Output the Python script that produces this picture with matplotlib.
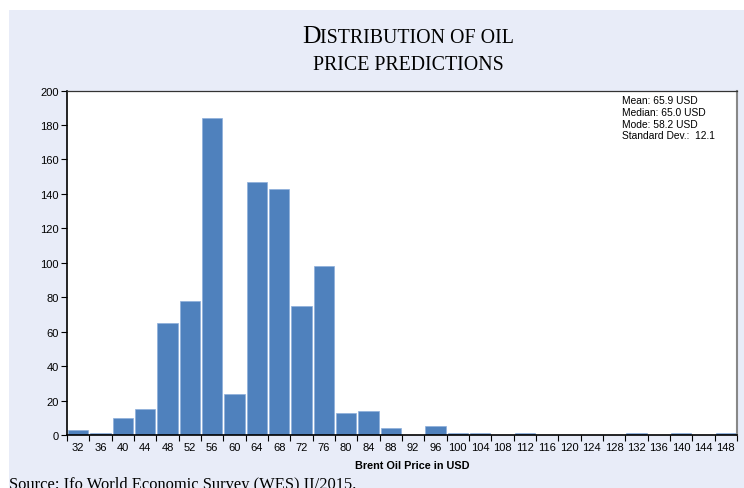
import matplotlib.pyplot as plt
from matplotlib.patches import Rectangle

# Brent oil price bins (USD) and number of responses
price_bins = [32, 36, 40, 44, 48, 52, 56, 60, 64, 68, 72, 76, 80, 84, 88,
              92, 96, 100, 104, 108, 112, 116, 120, 124, 128, 132, 136, 140, 144, 148]
counts = [3, 1, 10, 15, 65, 78, 184, 24, 147, 143, 75, 98, 13, 14, 4,
          0, 5, 1, 1, 0, 1, 0, 0, 0, 0, 1, 0, 1, 0, 1]
stats_lines = ["Mean: 65.9 USD", "Median: 65.0 USD", "Mode: 58.2 USD", "Standard Dev.:  12.1"]

W, H = 744, 489
fig = plt.figure(figsize=(W / 100, H / 100), dpi=100)
fig.patch.set_facecolor("white")
fig.patches.append(Rectangle((9 / W, 0), 1, (H - 11) / H, transform=fig.transFigure,
                             facecolor="#E8ECF8", edgecolor="none", zorder=-10))

ax = fig.add_axes([67 / W, (H - 436) / H, (737 - 67) / W, (436 - 91.5) / H], zorder=1)
ax.set_facecolor("white")

x = list(range(len(price_bins)))
ax.bar(x, counts, width=0.92, color="#4F81BD", edgecolor="#8DAEDB", linewidth=0.5, zorder=2)

ax.set_xlim(-0.5, len(price_bins) - 0.5)
ax.set_ylim(0, 200)
ax.set_yticks(range(0, 201, 20))
ax.tick_params(axis="y", labelsize=8, length=4, width=0.8, pad=2)
ax.set_xticks([i + 0.5 for i in range(-1, len(price_bins))], minor=False)
ax.set_xticklabels([])
ax.set_xticks(x, minor=True)
ax.set_xticklabels([str(p) for p in price_bins], minor=True)
ax.tick_params(axis="x", which="major", length=4, width=0.8, direction="out")
ax.tick_params(axis="x", which="minor", length=0, labelsize=8, pad=5)
for lab in ax.get_yticklabels() + ax.get_xticklabels(minor=True):
    lab.set_fontfamily("Liberation Sans")

for s in ["left", "bottom"]:
    ax.spines[s].set_color("black")
    ax.spines[s].set_linewidth(1.2)
ax.spines["top"].set_color("#333333")
ax.spines["top"].set_linewidth(0.9)
ax.spines["right"].set_color("#888888")
ax.spines["right"].set_linewidth(1.5)

ax.set_xlabel("Brent Oil Price in USD", fontsize=7.8, fontweight="bold",
              fontfamily="Liberation Sans", labelpad=0)
ax.xaxis.set_label_coords(0.515, -0.072)

ax.text(555 / 670, 1 - (96 - 91.5) / 344.5, "\n".join(stats_lines), transform=ax.transAxes,
        fontsize=7.4, fontfamily="Liberation Sans", va="top", ha="left", linespacing=1.22)

# title in small caps: big initial letter + smaller capitals
def small_caps_line(parts, y_px, center_px):
    renderer = fig.canvas.get_renderer()
    texts = []
    for s, size in parts:
        t = fig.text(0, 1 - y_px / H, s, fontsize=size, fontfamily="Liberation Serif",
                     va="baseline", ha="left")
        texts.append(t)
    widths = [t.get_window_extent(renderer).width for t in texts]
    x0 = center_px - sum(widths) / 2
    for t, w in zip(texts, widths):
        t.set_x(x0 / W)
        x0 += w

small_caps_line([("D", 18.5), ("ISTRIBUTION OF OIL", 14.3)], 43, 408)
small_caps_line([("PRICE PREDICTIONS", 14.3)], 70, 408)

fig.text(9 / W, 1 - 489 / H, "Source: Ifo World Economic Survey (WES) II/2015.",
         fontsize=11.9, fontfamily="Liberation Serif", va="baseline", ha="left")

fig.savefig("out.png", dpi=100, facecolor=fig.get_facecolor())
